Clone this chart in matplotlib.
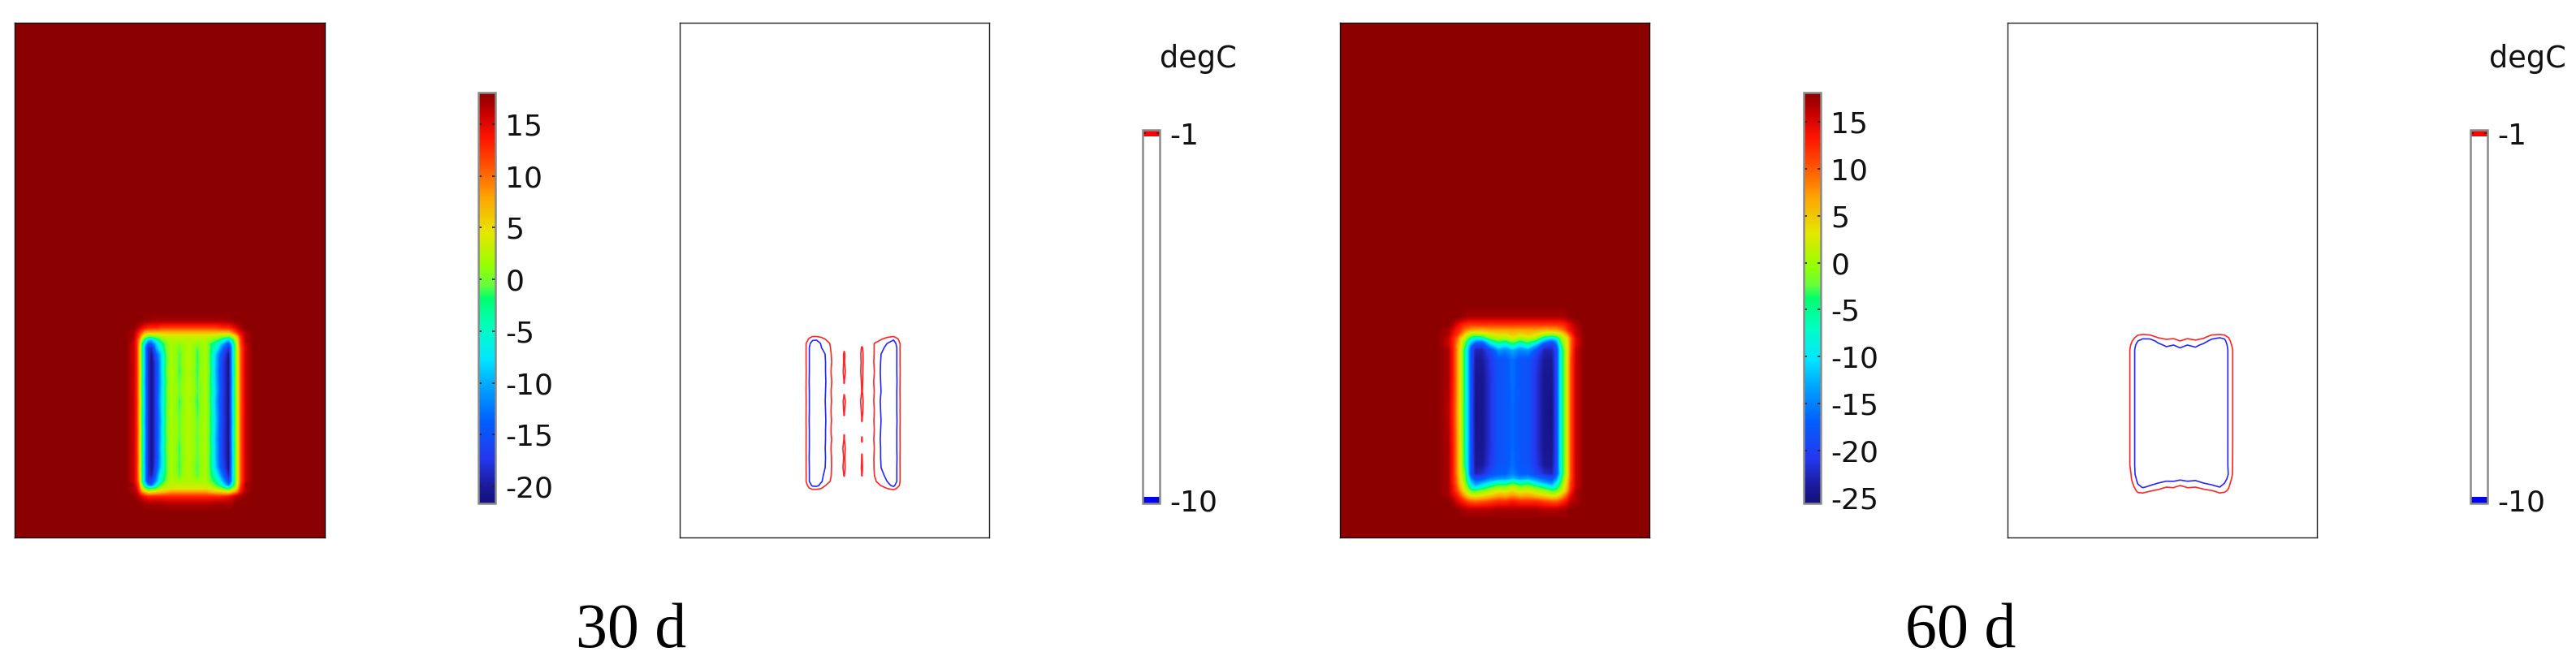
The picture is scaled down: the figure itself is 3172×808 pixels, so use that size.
import numpy as np
import matplotlib
matplotlib.use("Agg")
import matplotlib.pyplot as plt
from matplotlib.colors import Normalize, BoundaryNorm, ListedColormap, LinearSegmentedColormap
from matplotlib.cm import ScalarMappable

plt.rcParams['axes.unicode_minus'] = False
plt.rcParams['font.family'] = 'DejaVu Sans'

# ---------- temperature read from the 30 d field (degC) ----------
x30 = [155,164,168,171,174,178,182,187,193,198,205,211,217,221,225,232,239,243,247,253,258,266,274,282,286,290,293,297,303,312]
y30 = [385,395,403,409,414,418,423,428,436,446,458,470,482,494,506,518,530,541,552,564,576,586,593,598,602,606,612,620,630]
t30 = [
[18,18,18,18,18,18,18,18,18,18,18,18,18,18,18,18,18,18,18,18,18,18,18,18,18,18,18,18,18,18],
[18,18,18,18,18,17.5,17.5,17,17,17,17,17,17,17,17,17,17,17,17,17,17,17,17,17.5,17.5,18,18,18,18,18],
[18,18,17,16,15,14,13,13,13,12,12,12,12,12,12,12,12,12,12,12,12,12,13,13,14,15,16,17,18,18],
[18,17,15,13,11,8,7,7,7,7,7,7,7,7,7,7,7,7,7,7,7,7,7,7,9,11,13,15,17,18],
[18,17,14,11,7,2,0,0,1,2,3.5,3.5,3.5,3.5,3.5,3.5,3.5,3.5,3.5,3.5,3.5,2.5,1,0,2,5,8,13,17,18],
[18,17,13,9,3,-3,-8,-9,-4,-1,1.5,2.5,2.5,2.5,2.5,2.5,2.5,2.5,2.5,2.5,1,-0.5,-4,-9,-3,1,6,12,17,18],
[18,16,13,8,-1,-8,-15,-14,-9,-4,0,2,1.5,0.5,1.5,2.5,1.5,0.5,1.5,2,-1,-4,-10,-15,-8,-1,5,12,16,18],
[18,16,13,7,-1,-10,-18,-19,-10,-6,-0.2,2,1,-0.3,1,2.5,1,-1.4,1,2,-1,-6,-13,-19,-10,-1,4,11,16,18],
[18,16,13,7,-1,-10,-18,-21,-14,-9.5,-1,2,1,-1.5,0.7,2.5,0.7,-2,1,2,-1,-9.5,-16,-21,-10,-1,4,11,16,18],
[18,16,13,7,-1,-10,-18,-21.5,-16,-10,-1.3,2,0.5,-1.3,1,2.5,1,-1.8,0.5,2,-1.3,-10,-17,-21.5,-10,-1,4,11,16,18],
[18,16,13,7.5,-0.7,-10,-18,-21.5,-16,-10,-0.8,2.2,1,-1.9,0.5,2.5,0.3,-1.8,1,2,-0.7,-10.5,-17,-21.5,-10,-1.2,4,11,16,18],
[18,16,13,7,-1,-10.5,-18,-21.5,-16,-10.5,-1.4,2,0.7,-1.1,1,2.5,1,-1.5,0.8,2,-1.4,-10,-17,-21.5,-10.5,-1,4,11,16,18],
[18,16,13,7,-1.2,-10,-18,-21.5,-16,-10,-0.9,2.2,1.2,-0.6,1.2,2.5,1,-1.2,0.3,2,-0.9,-9.5,-17,-21.5,-10,-0.8,4,11,16,18],
[18,16,13,7.5,-0.8,-10,-18,-21.5,-16,-9.5,-1.2,2,1,-1.9,0.5,2.5,0.5,-2.1,1,2,-1.3,-10.5,-17,-21.5,-10,-1.1,4,11,16,18],
[18,16,13,7,-1,-10,-18,-21.5,-16,-10,-0.8,2.2,0.5,-1.3,1,2.5,1,-1.6,0.5,2,-0.8,-10,-17,-21.5,-10,-1,4,11,16,18],
[18,16,13,7,-1.2,-10.5,-18,-21.5,-16,-10.5,-1.2,2,1.2,-0.7,1.2,2.5,1.1,-1.05,1.1,2,-1.2,-9.5,-17,-21.5,-10.5,-1.2,4,11,16,18],
[18,16,13,7.5,-0.8,-10,-18,-21.5,-16,-10,-0.7,2.2,1.2,-0.8,1.2,2.5,1.2,-0.6,1.2,2,-0.8,-10,-17,-21.5,-10,-0.9,4,11,16,18],
[18,16,13,7,-1,-10,-18,-21.5,-16,-10,-1.3,2,1,-1.2,1,2.5,1,-1.15,1,2,-1.3,-10.5,-17,-21.5,-10,-1,4,11,16,18],
[18,16,13,7,-1.1,-10,-18,-21.5,-16,-9.5,-0.8,2.2,0.5,-2,1,2.5,1.2,-0.7,1.2,2,-0.8,-10,-17,-21.5,-10,-1.1,4,11,16,18],
[18,16,13,7.5,-0.9,-10.5,-18,-21.5,-16,-10,-1.2,2,1,-1.4,0.5,2.5,1,-1.2,1,2,-1.2,-10,-17,-21.5,-10.5,-0.9,4,11,16,18],
[18,16,13,7,-1,-10,-18,-21.5,-15,-9.5,-1.2,2,0.5,-1.9,1,2.5,0.5,-1.4,1,2,-1.1,-9.5,-16,-21.5,-10,-1,4,11,16,18],
[18,16,13,7.5,-0.7,-10,-18,-20,-13,-6,-1,2.2,1.1,-1.2,1.1,2.5,1.1,-1.1,1.1,2,-0.7,-6,-13,-20,-10,-1,4,11,16,18],
[18,16,13,8,-1,-10,-17,-17,-11,-5,0,2.5,2,1,2,2.5,2,1,2,2,0,-3,-10,-17,-10,-1,4,11,16,18],
[18,17,14,10,2,-5,-12,-13,-6,-1,2,3,3,3,3,3,3,3,3,3,2,-1,-6,-13,-5,0,5,12,17,18],
[18,17,15,11,5,0,-2,-2,-0.5,2,3.5,4,4,4,4,4,4,4,4,4,4,2,-0.5,-3,0,3,7,13,17,18],
[18,17,16,13,9,6,4,4,5,6,7,8,8,8,8,8,8,8,8,8,7,6,5,4,6,8,10,14,17,18],
[18,18,17,16,15,14,13,13,13,13,13,13,13,13,13,13,13,13,13,13,13,13,13,14,15,16,17,17,18,18],
[18,18,18,18,18,17,17,17,17,17,16.5,16.5,16.5,16.5,16.5,16.5,16.5,16.5,16.5,16.5,16.5,17,17,17,17,18,18,18,18,18],
[18,18,18,18,18,18,18,18,18,18,18,18,18,18,18,18,18,18,18,18,18,18,18,18,18,18,18,18,18,18],
]

# ---------- temperature read from the 60 d field (degC) ----------
x60 = [120,133,139,144,148,151,154,157,161,167,176,186,196,205,213,222,232,242,252,262,268,272,275,278,281,285,292,302]
y60 = [350,362,371,378,384,388,392,397,403,415,440,480,520,545,556,562,567,572,577,582,590,600,612]
t60 = [
[18,18,18,18,18,18,18,18,18,18,18,18,18,18,18,18,18,18,18,18,18,18,18,18,18,18,18,18],
[18,18,18,18,18,17.5,17.5,17,17,17,17,17,17,17,17,17,17,17,17,17,17,17,17,17,17.5,18,18,18],
[18,18,17,15,14,13,12.5,12,12,12,12,12,12,12,12,12,12,12,12,12,12,12,12.5,13,14,15,17,18],
[18,17,15,13,12,10,9,8,7,6.5,6.5,7,7,7,7,7,7,7,6.5,6.5,7,8,9,10,12,14,16,18],
[18,17,14,12,9,7,4,2,0,-1,0,2,3.5,3,5,3,4.5,3,0,-1,0.5,1.5,3,5,7,11,16,18],
[18,16,13,10,6,3,1,-1,-5,-8,-7,-1,1,0.3,2.5,0.3,1.5,0,-7,-10,-8,-1.5,0,2,4,9,15,18],
[18,16,13,9,5,1,-1,-5,-10,-14,-15,-7,-3,-4.4,-1,-4.4,-2,-5,-14,-17,-13,-4.5,-1,1,3.5,9,15,18],
[18,16,13,8,4,0,-3,-8,-15,-20,-20,-13,-8,-10,-6,-10,-7,-13,-20,-21,-17,-8,-3,0.5,3,9,15,18],
[18,17,13,8,3,-1,-6,-10,-18,-23,-23,-19,-14,-15,-13,-15,-14,-18,-23,-23,-19,-10,-5,-1,3,9,16,18],
[18,17,13,8,3,-1,-6,-10,-18,-24,-24,-21,-18,-18,-16,-18,-18,-21,-24,-24,-19,-10,-5,-1,3,10,16,18],
[18,17,13,8,3,-1,-6,-10,-18,-24.5,-24.5,-21.5,-18,-18,-16,-18,-18,-21.5,-24.5,-24.5,-19,-10,-5,-1,3,10,16,18],
[18,16.5,12.5,7.5,2.5,-1,-6,-10,-18,-25,-24.5,-21.5,-18,-18,-16.5,-18,-18,-21.5,-24.5,-25,-19,-10,-5,-1,3,10,16,18],
[18,17,13,8,3,-1,-6,-10,-18,-24.5,-24.5,-21.5,-18,-18,-16.5,-18,-18,-21.5,-24.5,-24.5,-19,-10,-5,-1,3,10,16,18],
[18,17,13,8,3,-1,-5,-10,-18,-24,-24,-21,-18,-18,-16,-18,-18,-21,-24,-24,-19,-10,-4.5,-0.8,3,10,16,18],
[18,17,13,8,3.5,0,-2,-9,-18,-23,-22,-19,-17,-17,-15,-17,-17,-19.5,-22,-23,-18,-11,-5,-0.5,3,10,16,18],
[18,17,13,9,4,1,-2,-6,-14,-19,-18,-15,-14,-14,-12,-14,-13,-15,-17,-19,-14,-8,-3,1,4,10,16,18],
[18,17,13,9,5,2,-0.5,-4,-11,-15,-13,-10,-6.5,-7,-4,-6.7,-5,-10,-13,-15,-10,-5,-1,1.5,5,11,16,18],
[18,17,14,10,6,3,1,-1.5,-7,-11,-8,-4,-1,-1.5,1,-1.5,-1,-3,-6,-10,-6,-2.5,0.5,3,6,11,16,18],
[18,17,14,11,8,5,3,1,-2.5,-3,-1,1,2.5,2,4,2,3,1,0,-3,-2,0,2,4,7,12,17,18],
[18,17,15,13,10,8,6,4,2,1.5,2.5,4,6,5.5,7,5.5,6,4.5,3,1.5,2,4,6,8,10,14,17,18],
[18,18,17,15,14,13,12,11,10,9.5,10,11,12,12,13,12,12,12,11,10,10,11,12,13,14,16,17,18],
[18,18,18,18,17.5,17,17,16.5,16.5,16.5,16.5,16.5,17,17,17,17,17,17,16.5,16.5,16.5,17,17,17,17.5,18,18,18],
[18,18,18,18,18,18,18,18,18,18,18,18,18,18,18,18,18,18,18,18,18,18,18,18,18,18,18,18],
]

# ---------- scales and labels ----------
range30 = (-21.65, 18.06)
range60 = (-25.6, 18.1)
ticks30 = [15, 10, 5, 0, -5, -10, -15, -20]
ticks60 = [15, 10, 5, 0, -5, -10, -15, -20, -25]
iso_levels = [-10, -1]
iso_colors = ['#0000ff', '#ff0000']
unit_label = 'degC'
time_labels = ['30 d', '60 d']

# colour ramp
ramp_pos = [0.0, 0.04, 0.11, 0.2, 0.28, 0.35, 0.43, 0.5, 0.53, 0.58, 0.66, 0.75, 0.83, 0.89, 0.95, 1.0]
ramp_col = ['#14107f', '#1a1a9a', '#2438f0', '#0060ff', '#00a0ff', '#00e6ff', '#00ffc0', '#00ff6c',
            '#66ff3c', '#96ff00', '#e6e600', '#ffa000', '#ff4a00', '#ff1400', '#c80000', '#8b0000']

W, H = 3172, 808
fig = plt.figure(figsize=(W/100, H/100), dpi=100, facecolor='white')
field_cmap = LinearSegmentedColormap.from_list('field', list(zip(ramp_pos, ramp_col)), N=512)

def box(x0, y0, x1, y1):
    return fig.add_axes([x0/W, 1-y1/H, (x1-x0)/W, (y1-y0)/H])

def finish(ax, lims, edge):
    ax.set_xlim(lims[0], lims[1])
    ax.set_ylim(lims[3], lims[2])
    ax.set_xticks([]); ax.set_yticks([])
    for s in ax.spines.values():
        s.set_color(edge); s.set_linewidth(1.0)

def field_panel(rect, xs, ys, t, rng, lims):
    ax = box(*rect)
    norm = Normalize(*rng)
    ax.set_facecolor(field_cmap(norm(18)))
    ax.contourf(xs, ys, np.array(t, float), levels=np.linspace(rng[0], rng[1], 240),
                cmap=field_cmap, norm=norm, antialiased=False)
    finish(ax, lims, '#111111')
    return norm

def iso_panel(rect, xs, ys, t, lims):
    ax = box(*rect)
    ax.contour(xs, ys, np.array(t, float), levels=iso_levels, colors=iso_colors,
               linewidths=1.2, alpha=0.85)
    finish(ax, lims, '#222222')

def style_cbar(cb, size=26):
    cb.outline.set_edgecolor('#8a8a8a')
    cb.outline.set_linewidth(1.8)
    cb.ax.tick_params(axis='y', direction='in', length=3, width=1.2, color='#222222',
                      left=True, right=True, labelsize=size, pad=9, labelcolor='#111111')

def field_cbar(rect, norm, ticks):
    cax = box(*rect)
    cb = fig.colorbar(ScalarMappable(norm=norm, cmap=field_cmap), cax=cax, ticks=ticks)
    style_cbar(cb)

def iso_cbar(rect):
    cax = box(*rect)
    bounds = [-10.08, -9.92, -1.08, -0.92]
    cm = ListedColormap(['#0000ff', '#ffffff', '#ff0000'])
    n = BoundaryNorm(bounds, cm.N)
    cb = fig.colorbar(ScalarMappable(norm=n, cmap=cm), cax=cax, ticks=iso_levels,
                      spacing='proportional', boundaries=bounds)
    cb.ax.minorticks_off()
    style_cbar(cb)

x30a = np.array(x30); y30a = np.array(y30)
x60a = np.array(x60); y60a = np.array(y60)
lim30 = (18, 400, 28, 662)
lim60 = (0, 382, 0, 634)

n1 = field_panel((18, 28, 400, 662), x30a, y30a, t30, range30, lim30)
field_cbar((589, 114, 610, 620), n1, ticks30)
iso_panel((837, 28, 1218, 662), x30a, y30a, t30, lim30)
iso_cbar((1407, 160, 1428, 620))

n2 = field_panel((1650, 28, 2031, 662), x60a, y60a, t60, range60, lim60)
field_cbar((2221, 114, 2242, 620), n2, ticks60)
iso_panel((2472, 28, 2853, 662), x60a, y60a, t60, lim60)
iso_cbar((3042, 160, 3063, 620))

for xp in (1428, 3065):
    fig.text(xp/W, 1-83/H, unit_label, fontsize=26.5, ha='left', va='baseline', color='#111111')
for xp, lab in zip((777, 2414), time_labels):
    fig.text(xp/W, 1-797/H, lab, fontsize=56, ha='center', va='baseline',
             family='Liberation Serif', color='black')

fig.savefig('out.png', dpi=100)
